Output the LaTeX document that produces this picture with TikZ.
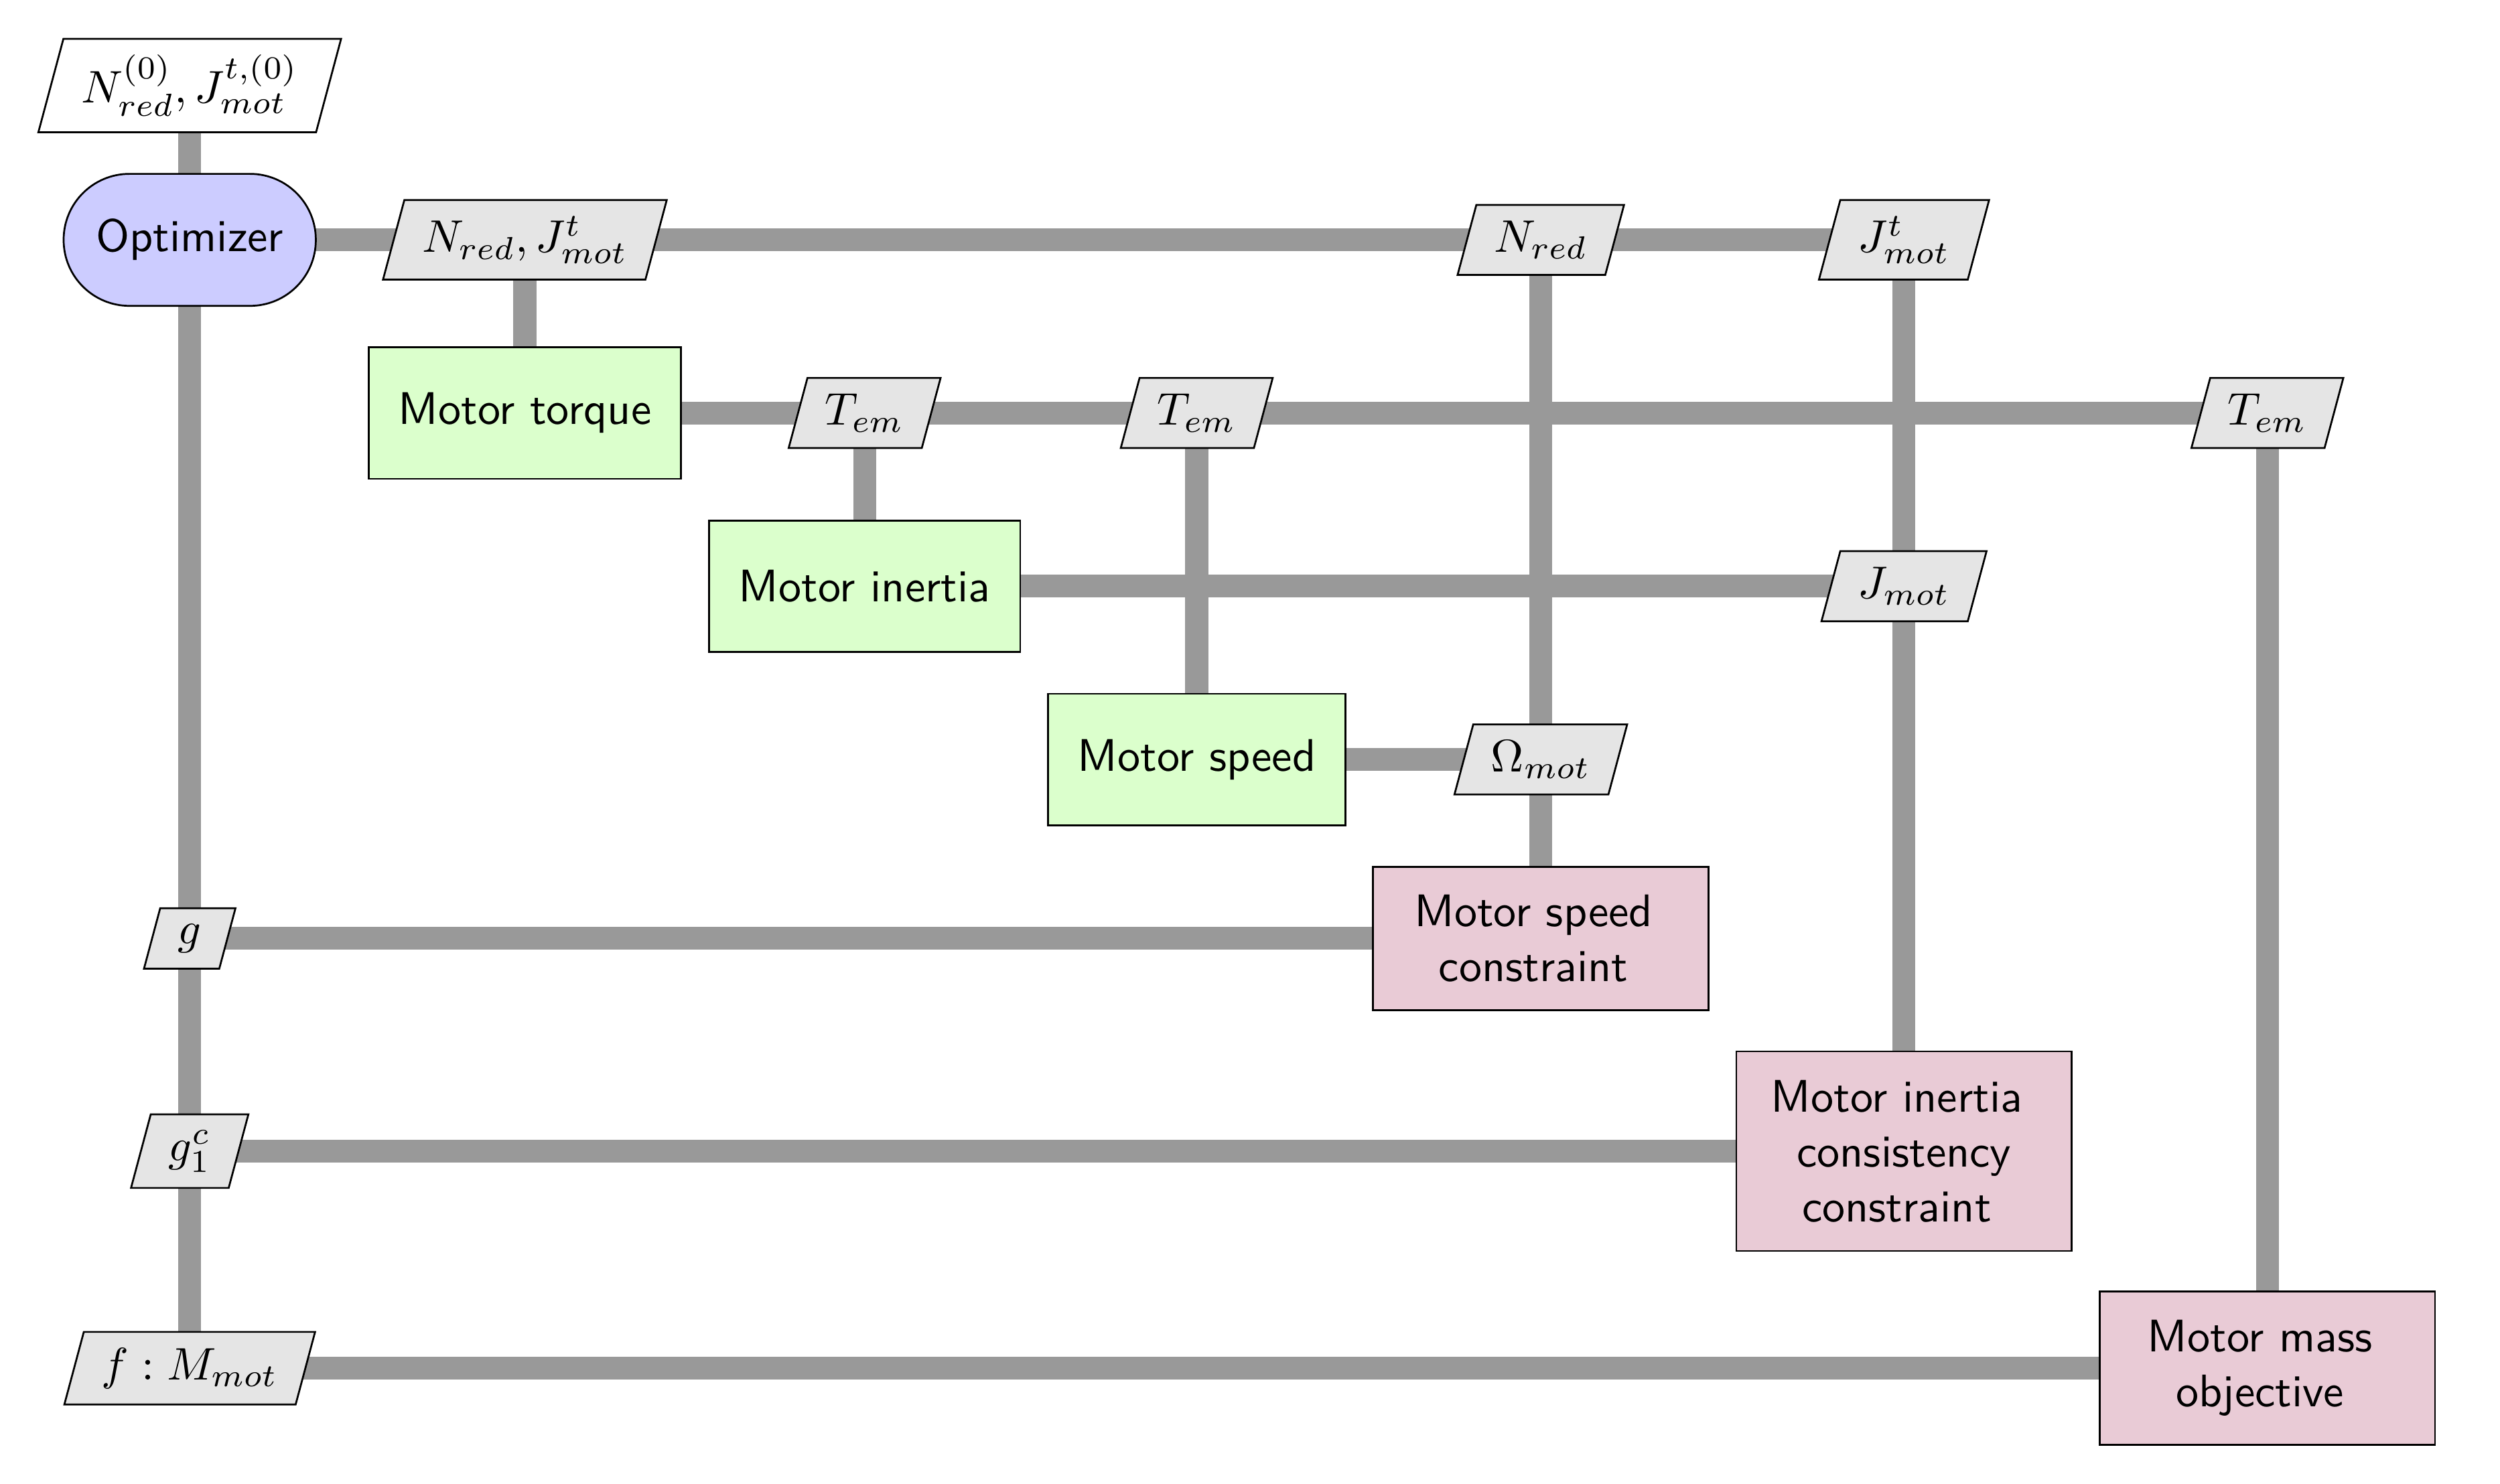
\documentclass[tikz,border=0pt]{standalone}
\usetikzlibrary{shapes.geometric,backgrounds}
\definecolor{fnfill}{RGB}{219,255,204}
\definecolor{cfill}{RGB}{233,203,214}
\newcommand{\trsp}{\hspace*{3.2pt}}
\begin{document}
\begin{tikzpicture}[x=0.349pt,y=-0.349pt,
  dline/.style={draw=black!40,line width=5pt},
  datanode/.style={trapezium,trapezium left angle=75,trapezium right angle=105,draw,fill=black!10,inner xsep=3.9pt,inner ysep=3.5pt},
  ionode/.style={datanode,fill=white},
  optnode/.style={rectangle,rounded corners=14.4pt,draw,fill=blue!20,font=\sffamily,minimum width=55.2pt,minimum height=28.9pt,inner xsep=0pt},
  fnnode/.style={rectangle,draw,fill=fnfill,font=\sffamily,minimum height=28.8pt},
  cnode/.style={rectangle,draw,fill=cfill,font=\sffamily,align=center,minimum width=73.4pt}
]
\useasboundingbox (0,0) rectangle (1568,931);

% nodes
\node[ionode] (init) at (119,53.7) {$N_{red}^{(0)}, J_{mot}^{t,(0)}$};
\node[optnode] (opt) at (119,150.5) {Optimizer};
\node[datanode] (d12) at (329.2,150.5) {$N_{red}, J_{mot}^{t}$};
\node[datanode] (n15) at (966.4,150.5) {$N_{red}$};
\node[datanode] (n16) at (1194.2,150.5) {$J_{mot}^{t}$};

\node[fnnode,minimum width=68.3pt] (mt) at (329.2,259.1) {Motor torque};
\node[datanode] (t23) at (542.3,259.1) {$T_{em}$};
\node[datanode] (t24) at (750.6,259.1) {$T_{em}$};
\node[datanode] (t27) at (1422.1,259.1) {$T_{em}$};

\node[fnnode,minimum width=68.1pt] (mi) at (542.3,367.8) {Motor inertia};
\node[datanode] (j36) at (1194.2,367.8) {$J_{mot}$};

\node[fnnode,minimum width=65.1pt] (ms) at (750.6,476.5) {Motor speed};
\node[datanode] (o45) at (966.4,476.5) {$\Omega_{mot}$};

\node[datanode] (g) at (119,588.8) {$g$};
\node[cnode,minimum height=31.4pt] (msc) at (966.4,588.8) {Motor speed\trsp\\constraint\trsp};

\node[datanode] (g1c) at (119,722.2) {$g_1^c$};
\node[cnode,minimum height=43.7pt] (mic) at (1194.2,722.2) {Motor inertia\trsp\\consistency\trsp\\constraint\trsp};

\node[datanode] (f) at (119,858.4) {$f: M_{mot}$};
\node[cnode,minimum height=33.5pt] (mmo) at (1422.1,858.4) {Motor mass\trsp\\objective\trsp};

% connectors
\begin{pgfonlayer}{background}
\draw[dline] (init.center) -- (opt.center);
\draw[dline] (opt.center) -- (g.center) -- (g1c.center) -- (f.center);
\draw[dline] (opt.center) -- (d12.center) -- (n15.center) -- (n16.center);
\draw[dline] (d12.center) -- (mt.center);
\draw[dline] (mt.center) -- (t23.center) -- (t24.center) -- (t27.center);
\draw[dline] (t23.center) -- (mi.center);
\draw[dline] (t24.center) -- (ms.center);
\draw[dline] (mi.center) -- (j36.center);
\draw[dline] (ms.center) -- (o45.center);
\draw[dline] (n15.center) -- (o45.center) -- (msc.center);
\draw[dline] (n16.center) -- (j36.center) -- (mic.center);
\draw[dline] (t27.center) -- (mmo.center);
\draw[dline] (g.center) -- (msc.center);
\draw[dline] (g1c.center) -- (mic.center);
\draw[dline] (f.center) -- (mmo.center);
\end{pgfonlayer}
\end{tikzpicture}
\end{document}
